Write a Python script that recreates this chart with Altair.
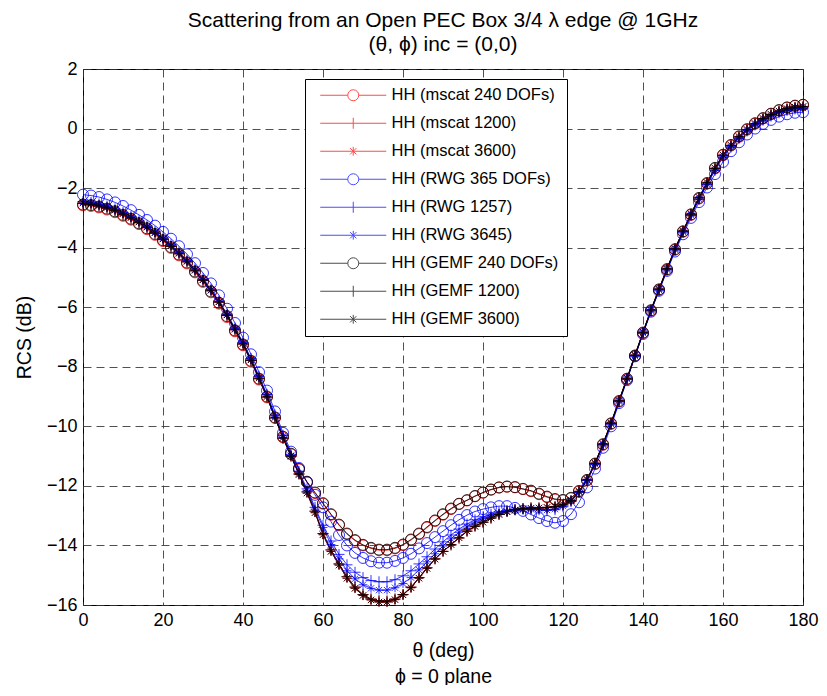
import altair as alt
import pandas as pd

# ---------------- data ----------------
theta = list(range(0, 181, 2))  # deg

hh_mscat_240 = [
    -2.58, -2.60, -2.65, -2.72, -2.81, -2.93, -3.06, -3.21, -3.38, -3.57,
    -3.78, -4.01, -4.26, -4.53, -4.83, -5.15, -5.50, -5.88, -6.33, -6.81,
    -7.28, -7.83, -8.43, -9.03, -9.72, -10.37, -10.94, -11.45, -11.88, -12.24,
    -12.60, -12.97, -13.32, -13.62, -13.84, -14.00, -14.10, -14.16, -14.16, -14.10,
    -13.99, -13.82, -13.62, -13.40, -13.18, -12.97, -12.78, -12.61, -12.49, -12.35,
    -12.23, -12.13, -12.06, -12.03, -12.05, -12.11, -12.18, -12.28, -12.38, -12.46,
    -12.49, -12.42, -12.19, -11.82, -11.27, -10.62, -9.92, -9.17, -8.42, -7.64,
    -6.87, -6.12, -5.42, -4.74, -4.07, -3.47, -2.90, -2.35, -1.85, -1.34,
    -0.90, -0.57, -0.28, -0.04, 0.16, 0.34, 0.49, 0.61, 0.70, 0.76, 0.79,
]
hh_gemf_240 = [
    -2.55, -2.57, -2.62, -2.69, -2.78, -2.90, -3.03, -3.18, -3.35, -3.54,
    -3.75, -3.98, -4.23, -4.50, -4.80, -5.12, -5.47, -5.85, -6.30, -6.78,
    -7.25, -7.80, -8.40, -9.00, -9.70, -10.35, -10.92, -11.43, -11.86, -12.22,
    -12.58, -12.95, -13.30, -13.60, -13.82, -13.98, -14.08, -14.14, -14.14, -14.08,
    -13.97, -13.80, -13.60, -13.38, -13.16, -12.95, -12.76, -12.60, -12.48, -12.34,
    -12.22, -12.12, -12.05, -12.02, -12.04, -12.10, -12.16, -12.26, -12.36, -12.44,
    -12.47, -12.40, -12.17, -11.80, -11.25, -10.60, -9.90, -9.15, -8.40, -7.62,
    -6.85, -6.10, -5.40, -4.72, -4.05, -3.45, -2.88, -2.33, -1.83, -1.32,
    -0.88, -0.55, -0.26, -0.02, 0.18, 0.35, 0.50, 0.62, 0.71, 0.77, 0.80,
]
hh_rwg_365 = [
    -2.22, -2.25, -2.30, -2.38, -2.48, -2.60, -2.74, -2.90, -3.07, -3.26,
    -3.47, -3.70, -3.95, -4.22, -4.52, -4.85, -5.20, -5.60, -6.05, -6.53,
    -7.02, -7.58, -8.18, -8.80, -9.50, -10.22, -10.85, -11.40, -11.88, -12.30,
    -12.72, -13.20, -13.65, -14.00, -14.25, -14.42, -14.53, -14.58, -14.58, -14.52,
    -14.42, -14.28, -14.10, -13.92, -13.72, -13.52, -13.32, -13.14, -12.98, -12.86,
    -12.78, -12.72, -12.68, -12.68, -12.74, -12.84, -12.96, -13.08, -13.18, -13.24,
    -13.18, -12.95, -12.55, -12.05, -11.42, -10.72, -10.00, -9.22, -8.45, -7.65,
    -6.90, -6.15, -5.45, -4.78, -4.13, -3.55, -3.00, -2.47, -1.98, -1.53,
    -1.12, -0.76, -0.46, -0.20, 0.00, 0.16, 0.29, 0.40, 0.48, 0.53, 0.55,
]
hh_rwg_1257 = [
    -2.45, -2.48, -2.53, -2.60, -2.70, -2.82, -2.95, -3.10, -3.27, -3.46,
    -3.67, -3.90, -4.15, -4.42, -4.72, -5.05, -5.40, -5.79, -6.23, -6.70,
    -7.18, -7.72, -8.32, -8.93, -9.62, -10.30, -10.95, -11.52, -12.10, -12.72,
    -13.32, -13.85, -14.30, -14.65, -14.90, -15.08, -15.18, -15.22, -15.22, -15.15,
    -15.02, -14.85, -14.62, -14.38, -14.12, -13.88, -13.65, -13.45, -13.28, -13.14,
    -13.04, -12.95, -12.88, -12.83, -12.80, -12.78, -12.78, -12.80, -12.82, -12.80,
    -12.70, -12.52, -12.22, -11.82, -11.28, -10.63, -9.93, -9.18, -8.43, -7.65,
    -6.88, -6.13, -5.43, -4.75, -4.08, -3.48, -2.92, -2.38, -1.88, -1.40,
    -0.96, -0.62, -0.33, -0.08, 0.12, 0.28, 0.42, 0.53, 0.61, 0.66, 0.68,
]
hh_rwg_3645 = [
    -2.47, -2.50, -2.55, -2.62, -2.72, -2.84, -2.97, -3.12, -3.29, -3.48,
    -3.69, -3.92, -4.17, -4.44, -4.74, -5.07, -5.42, -5.81, -6.25, -6.72,
    -7.20, -7.74, -8.34, -8.95, -9.65, -10.32, -10.98, -11.58, -12.15, -12.78,
    -13.40, -13.97, -14.45, -14.85, -15.12, -15.32, -15.44, -15.50, -15.50, -15.42,
    -15.28, -15.08, -14.82, -14.55, -14.28, -14.02, -13.78, -13.56, -13.38, -13.22,
    -13.10, -13.00, -12.92, -12.86, -12.82, -12.80, -12.79, -12.80, -12.81, -12.78,
    -12.68, -12.50, -12.21, -11.81, -11.27, -10.62, -9.92, -9.17, -8.42, -7.64,
    -6.87, -6.12, -5.42, -4.74, -4.07, -3.47, -2.91, -2.37, -1.87, -1.39,
    -0.95, -0.61, -0.32, -0.07, 0.13, 0.29, 0.43, 0.54, 0.62, 0.67, 0.69,
]
hh_n1200 = [
    -2.52, -2.55, -2.60, -2.67, -2.76, -2.88, -3.01, -3.16, -3.33, -3.52,
    -3.73, -3.96, -4.21, -4.48, -4.78, -5.10, -5.45, -5.83, -6.28, -6.76,
    -7.24, -7.79, -8.40, -9.02, -9.72, -10.40, -11.00, -11.60, -12.20, -12.85,
    -13.60, -14.15, -14.62, -15.05, -15.40, -15.65, -15.80, -15.86, -15.87, -15.80,
    -15.65, -15.40, -15.08, -14.75, -14.45, -14.20, -13.98, -13.75, -13.52, -13.35,
    -13.22, -13.08, -12.96, -12.86, -12.80, -12.76, -12.74, -12.74, -12.73, -12.70,
    -12.64, -12.50, -12.20, -11.80, -11.25, -10.60, -9.90, -9.15, -8.40, -7.62,
    -6.85, -6.10, -5.40, -4.72, -4.05, -3.45, -2.88, -2.33, -1.83, -1.34,
    -0.90, -0.57, -0.28, -0.04, 0.16, 0.33, 0.47, 0.58, 0.66, 0.71, 0.73,
]
hh_n3600 = [
    -2.50, -2.53, -2.58, -2.65, -2.74, -2.86, -2.99, -3.14, -3.31, -3.50,
    -3.71, -3.94, -4.19, -4.46, -4.76, -5.08, -5.43, -5.82, -6.26, -6.74,
    -7.22, -7.77, -8.38, -9.00, -9.70, -10.38, -11.00, -11.62, -12.24, -12.90,
    -13.64, -14.20, -14.66, -15.10, -15.44, -15.68, -15.83, -15.90, -15.90, -15.82,
    -15.66, -15.42, -15.10, -14.77, -14.46, -14.20, -13.97, -13.74, -13.52, -13.36,
    -13.22, -13.08, -12.96, -12.87, -12.81, -12.77, -12.75, -12.74, -12.72, -12.69,
    -12.62, -12.48, -12.18, -11.78, -11.23, -10.58, -9.88, -9.13, -8.38, -7.60,
    -6.83, -6.08, -5.38, -4.70, -4.03, -3.43, -2.86, -2.31, -1.81, -1.33,
    -0.89, -0.56, -0.27, -0.03, 0.17, 0.34, 0.48, 0.59, 0.67, 0.72, 0.74,
]
hh_mscat_1200 = hh_n1200
hh_mscat_3600 = hh_n3600
hh_gemf_1200 = hh_n1200
hh_gemf_3600 = hh_n3600

series_names = [
    "HH (mscat 240 DOFs)", "HH (mscat 1200)", "HH (mscat 3600)",
    "HH (RWG 365 DOFs)", "HH (RWG 1257)", "HH (RWG 3645)",
    "HH (GEMF 240 DOFs)", "HH (GEMF 1200)", "HH (GEMF 3600)",
]
series_values = [
    hh_mscat_240, hh_mscat_1200, hh_mscat_3600,
    hh_rwg_365, hh_rwg_1257, hh_rwg_3645,
    hh_gemf_240, hh_gemf_1200, hh_gemf_3600,
]
series_colors = ["#ff0000"] * 3 + ["#0000ff"] * 3 + ["#000000"] * 3

# marker glyphs (unit-square paths), and legend glyphs with the line segment
CIRCLE = "circle"
PLUS = "M-1,0L1,0M0,-1L0,1"
STAR = "M-0.8,0L0.8,0M0,-0.8L0,0.8M-0.57,-0.57L0.57,0.57M-0.57,0.57L0.57,-0.57"
L_CIRCLE = "M-6,0L-1,0M1,0L6,0M1,0A1,1,0,1,1,-1,0A1,1,0,1,1,1,0"
L_PLUS = "M-6,0L6,0M0,-1L0,1"
L_STAR = "M-6,0L6,0M0,-0.8L0,0.8M-0.57,-0.57L0.57,0.57M-0.57,0.57L0.57,-0.57"
data_shapes = [CIRCLE, PLUS, STAR] * 3
legend_shapes = [L_CIRCLE, L_PLUS, L_STAR] * 3

rows = []
for k, (name, vals) in enumerate(zip(series_names, series_values)):
    assert len(vals) == len(theta), name
    for t, v in zip(theta, vals):
        rows.append({"theta": t, "rcs": v, "series": name, "entry": name, "k": k})
df = pd.DataFrame(rows)

FONT = "Liberation Sans"

x_enc = alt.X(
    "theta:Q",
    scale=alt.Scale(domain=[0, 180], nice=False, zero=False, padding=0),
    axis=alt.Axis(
        values=list(range(0, 181, 20)),
        title=["θ (deg)", "ϕ = 0 plane"],
        titleLineHeight=26,
        titlePadding=12,
        labelPadding=6,
        labelFlush=False,
    ),
)
y_enc = alt.Y(
    "rcs:Q",
    scale=alt.Scale(domain=[-16, 2], nice=False, zero=False, padding=0),
    axis=alt.Axis(
        values=list(range(-16, 3, 2)),
        title="RCS (dB)",
        titlePadding=12,
        labelPadding=6,
        labelFlush=False,
    ),
)

base = alt.Chart(df)

lines = base.mark_line(strokeWidth=0.8).encode(
    x=x_enc,
    y=y_enc,
    color=alt.Color("series:N", scale=alt.Scale(domain=series_names, range=series_colors), legend=None),
    detail="series:N",
    order="theta:Q",
)

points = base.mark_point(filled=False, size=121, strokeWidth=0.8, opacity=1).encode(
    x=x_enc,
    y=y_enc,
    color=alt.Color("series:N", scale=alt.Scale(domain=series_names, range=series_colors), legend=None),
    shape=alt.Shape("series:N", scale=alt.Scale(domain=series_names, range=data_shapes), legend=None),
)

leg = alt.Legend(
    title=None,
    orient="none",
    legendX=222,
    legendY=10,
    fillColor="white",
    strokeColor="black",
    padding=8,
    cornerRadius=0,
    labelFont=FONT,
    labelFontSize=16.5,
    labelColor="black",
    labelLimit=400,
    symbolSize=121,
    symbolStrokeWidth=1,
    symbolOffset=32,
    labelOffset=30,
    rowPadding=11,
)

legend_layer = base.mark_point(filled=False, size=0, strokeWidth=1).encode(
    x=x_enc,
    y=y_enc,
    color=alt.Color("entry:N", scale=alt.Scale(domain=series_names, range=series_colors), legend=leg),
    shape=alt.Shape("entry:N", scale=alt.Scale(domain=series_names, range=legend_shapes), legend=leg),
)

chart = (
    alt.layer(lines, points, legend_layer)
    .resolve_scale(color="independent", shape="independent")
    .properties(
        width=720,
        height=536,
        autosize=alt.AutoSizeParams(type="none"),
        padding={"left": 75, "top": 61, "right": 16, "bottom": 80},
        title=alt.Title(
            ["Scattering from an Open PEC Box 3/4 λ edge @ 1GHz", "(θ, ϕ) inc = (0,0)"],
            font=FONT,
            fontSize=21,
            fontWeight="normal",
            color="black",
            lineHeight=24,
            offset=5,
            anchor="middle",
        ),
    )
    .configure(background="white")
    .configure_view(stroke="black", strokeWidth=1)
    .configure_axis(
        grid=True,
        gridDash=[8, 5],
        gridColor="#333333",
        gridOpacity=0.85,
        gridWidth=1,
        ticks=False,
        domain=False,
        labelFont=FONT,
        labelFontSize=18,
        labelColor="black",
        titleFont=FONT,
        titleFontSize=19.5,
        titleFontWeight="normal",
        titleColor="black",
    )
)

chart.save("out.html", embed_options={"renderer": "svg", "actions": False})
